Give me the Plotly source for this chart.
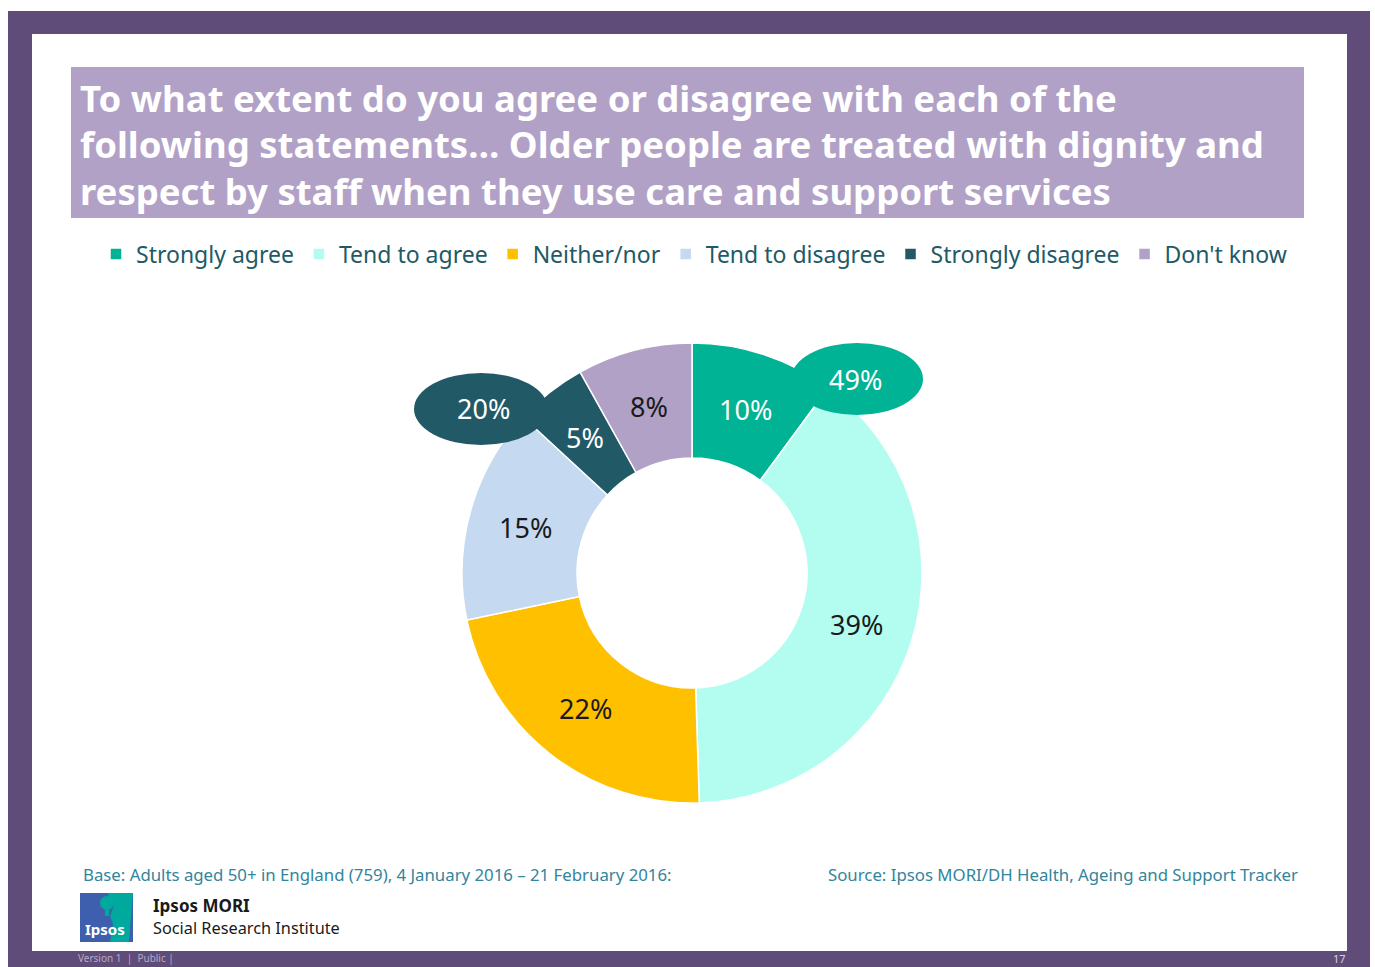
import math
import plotly.graph_objects as go

# Survey responses (percent)
categories = ["Strongly agree", "Tend to agree", "Neither/nor",
              "Tend to disagree", "Strongly disagree", "Don't know"]
values = [10, 39, 22, 15, 5, 8]
colors = ["#00b394", "#b3fdf0", "#ffc000", "#c5d9f1", "#215967", "#b2a1c7"]
label_colors = ["#ffffff", "#1a1a1a", "#1a1a1a", "#1a1a1a", "#ffffff", "#1a1a1a"]

title_lines = [
    "To what extent do you agree or disagree with each of the",
    "following statements\u2026 Older people are treated with dignity and",
    "respect by staff when they use care and support services",
]
base_note = "Base: Adults aged 50+ in England (759), 4 January 2016 \u2013 21 February 2016:"
source_note = "Source: Ipsos MORI/DH Health, Ageing and Support Tracker"

W, H = 1375, 967
FONT = "Noto Sans"
PURPLE = "#604c78"


def px(x):
    return x / W


def py(y):
    return 1 - y / H


agree_total = values[0] + values[1]
disagree_total = values[3] + values[4]

# donut geometry (pixels)
cx, cy, r = 692, 573, 230
hole = 0.5

fig = go.Figure()
fig.add_trace(go.Pie(
    labels=categories,
    values=values,
    sort=False,
    direction="clockwise",
    rotation=0,
    hole=hole,
    marker=dict(colors=colors, line=dict(color="#ffffff", width=1.5)),
    textinfo="none",
    hoverinfo="label+value",
    domain=dict(x=[px(cx - r), px(cx + r)], y=[py(cy + r), py(cy - r)]),
))

# slice labels at each slice's mid-angle, halfway through the ring
annotations = []
total = sum(values)
cum = 0
r_mid = r * (1 + hole) / 2
for v, c in zip(values, label_colors):
    ang = 2 * math.pi * (cum + v / 2) / total
    cum += v
    lx = cx + r_mid * math.sin(ang)
    ly = cy - r_mid * math.cos(ang)
    annotations.append(dict(
        text=f"{v}%", xref="paper", yref="paper", x=px(lx), y=py(ly),
        xanchor="center", yanchor="middle",
        showarrow=False, font=dict(family=FONT, size=27, color=c)))

shapes = [
    # slide frame
    dict(type="rect", xref="paper", yref="paper", layer="below",
         x0=px(8), x1=px(1370), y0=py(967), y1=py(11),
         fillcolor=PURPLE, line=dict(width=0)),
    dict(type="rect", xref="paper", yref="paper", layer="below",
         x0=px(32), x1=px(1347), y0=py(951), y1=py(34),
         fillcolor="#ffffff", line=dict(width=0)),
    # title band
    dict(type="rect", xref="paper", yref="paper", layer="below",
         x0=px(71), x1=px(1304), y0=py(218), y1=py(67),
         fillcolor="#b2a1c7", line=dict(width=0)),
    # net-score bubbles
    dict(type="circle", xref="paper", yref="paper", layer="above",
         x0=px(791), x1=px(923), y0=py(415), y1=py(343),
         fillcolor=colors[0], line=dict(width=0)),
    dict(type="circle", xref="paper", yref="paper", layer="above",
         x0=px(414), x1=px(548), y0=py(445), y1=py(373),
         fillcolor=colors[4], line=dict(width=0)),
    # logo
    dict(type="rect", xref="paper", yref="paper", layer="below",
         x0=px(80), x1=px(133), y0=py(942), y1=py(893),
         fillcolor="#3d5fae", line=dict(width=0)),
    dict(type="path", xref="paper", yref="paper", layer="below",
         path=(f"M {px(108)} {py(893)} L {px(133)} {py(893)} L {px(129)} {py(942)} "
               f"L {px(110)} {py(942)} L {px(113)} {py(924)} L {px(110)} {py(916)} "
               f"L {px(114)} {py(906)} L {px(109)} {py(899)} Z"),
         fillcolor="#00a99d", line=dict(width=0)),
    dict(type="circle", xref="paper", yref="paper", layer="below",
         x0=px(100), x1=px(114), y0=py(910), y1=py(896),
         fillcolor="#00a99d", line=dict(width=0)),
    dict(type="rect", xref="paper", yref="paper", layer="below",
         x0=px(105), x1=px(109), y0=py(916), y1=py(908),
         fillcolor="#00a99d", line=dict(width=0)),
]

for i, line in enumerate(title_lines):
    annotations.append(dict(
        text=f"<b>{line}</b>", xref="paper", yref="paper",
        x=px(78), y=py(98 + i * 46.5), xanchor="left", yanchor="middle",
        showarrow=False, font=dict(family=FONT, size=36.5, color="#ffffff")))

annotations += [
    dict(text=f"{agree_total}%", xref="paper", yref="paper",
         x=px(855), y=py(379), xanchor="center", yanchor="middle", showarrow=False,
         font=dict(family=FONT, size=27, color="#ffffff")),
    dict(text=f"{disagree_total}%", xref="paper", yref="paper",
         x=px(483), y=py(408), xanchor="center", yanchor="middle", showarrow=False,
         font=dict(family=FONT, size=27, color="#ffffff")),
    dict(text=base_note, xref="paper", yref="paper",
         x=px(81), y=py(874), xanchor="left", yanchor="middle", showarrow=False,
         font=dict(family=FONT, size=16.8, color="#31859c")),
    dict(text=source_note, xref="paper", yref="paper",
         x=px(1300), y=py(874), xanchor="right", yanchor="middle", showarrow=False,
         font=dict(family=FONT, size=16.8, color="#31859c")),
    dict(text="<b>Ipsos</b>", xref="paper", yref="paper",
         x=px(105), y=py(929), xanchor="center", yanchor="middle", showarrow=False,
         font=dict(family=FONT, size=15, color="#ffffff")),
    dict(text="<b>Ipsos MORI</b>", xref="paper", yref="paper",
         x=px(151), y=py(905), xanchor="left", yanchor="middle", showarrow=False,
         font=dict(family=FONT, size=17, color="#1a1a1a")),
    dict(text="Social Research Institute", xref="paper", yref="paper",
         x=px(151), y=py(928), xanchor="left", yanchor="middle", showarrow=False,
         font=dict(family=FONT, size=16.3, color="#1a1a1a")),
    dict(text="Version 1  |  Public |", xref="paper", yref="paper",
         x=px(76), y=py(958), xanchor="left", yanchor="middle", showarrow=False,
         font=dict(family=FONT, size=10, color="#b7aac8")),
    dict(text="17", xref="paper", yref="paper",
         x=px(1348), y=py(958), xanchor="right", yanchor="middle", showarrow=False,
         font=dict(family=FONT, size=11, color="#d8d0e2")),
]

fig.update_layout(
    width=W, height=H,
    margin=dict(l=0, r=0, t=0, b=0),
    paper_bgcolor="#ffffff",
    plot_bgcolor="#ffffff",
    shapes=shapes,
    annotations=annotations,
    showlegend=True,
    legend=dict(
        orientation="h", x=px(694), xanchor="center", y=py(254), yanchor="middle",
        font=dict(family=FONT, size=23, color="#215967"),
        bgcolor="rgba(0,0,0,0)", traceorder="normal",
    ),
)

fig.write_html("out.html")
